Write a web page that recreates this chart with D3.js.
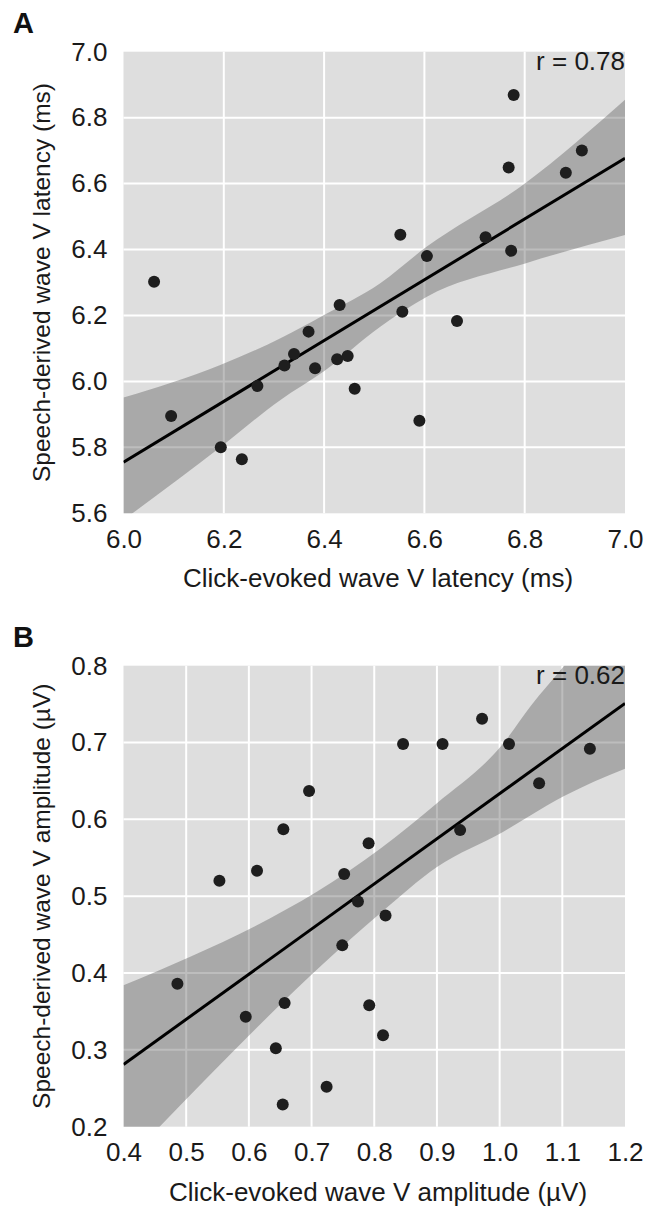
<!DOCTYPE html>
<html lang="en">
<head>
<meta charset="utf-8">
<script src="https://d3js.org/d3.v7.min.js"></script>
<title>wave V</title>
<style>
    body {margin: 0; background: #fff;}
    svg {font-family: "Liberation Sans", Arial, sans-serif;}
    .tick text {font-size: 26px; fill: #1a1a1a;}
    .title {font-size: 26px; fill: #1a1a1a;}
    .ytitle {font-size: 24.5px; fill: #1a1a1a;}
    .panel {font-size: 29px; font-weight: bold; fill: #111;}
</style>
</head>
<body>
<svg width="658" height="1207"></svg>
<script>
    // A: latency (ms), click-evoked vs speech-derived
    var latClick  = [6.061, 6.095, 6.194, 6.236, 6.267, 6.321, 6.340, 6.369, 6.382, 6.426, 6.431, 6.447,
                     6.461, 6.552, 6.556, 6.590, 6.605, 6.665, 6.722, 6.768, 6.773, 6.778, 6.882, 6.914];
    var latSpeech = [6.302, 5.895, 5.800, 5.764, 5.986, 6.048, 6.083, 6.151, 6.040, 6.067, 6.232, 6.077,
                     5.978, 6.445, 6.211, 5.881, 6.380, 6.183, 6.437, 6.649, 6.396, 6.869, 6.633, 6.700];
    var latTicksX = [6.0, 6.2, 6.4, 6.6, 6.8, 7.0];
    var latTicksY = [5.6, 5.8, 6.0, 6.2, 6.4, 6.6, 6.8, 7.0];
    // fitted line (at axis ends) and shaded band
    var latFit    = [5.755, 6.677];
    var latBandX  = [6.0, 6.193, 6.313, 6.399, 6.512, 6.605, 6.801, 7.0];
    var latBandLo = [5.580, 5.800, 5.944, 6.030, 6.166, 6.257, 6.358, 6.444];
    var latBandHi = [5.951, 6.050, 6.131, 6.201, 6.298, 6.409, 6.601, 6.854];

    // B: amplitude (µV)
    var ampClick  = [0.486, 0.553, 0.595, 0.613, 0.643, 0.654, 0.655, 0.657, 0.696, 0.724, 0.749, 0.752,
                     0.774, 0.791, 0.792, 0.814, 0.818, 0.846, 0.909, 0.937, 0.972, 1.015, 1.063, 1.144];
    var ampSpeech = [0.386, 0.520, 0.343, 0.533, 0.302, 0.229, 0.587, 0.361, 0.637, 0.252, 0.436, 0.529,
                     0.493, 0.569, 0.358, 0.319, 0.475, 0.698, 0.698, 0.586, 0.731, 0.698, 0.647, 0.692];
    var ampTicksX = [0.4, 0.5, 0.6, 0.7, 0.8, 0.9, 1.0, 1.1, 1.2];
    var ampTicksY = [0.2, 0.3, 0.4, 0.5, 0.6, 0.7, 0.8];
    var ampFit    = [0.281, 0.751];
    var ampBandX  = [0.4, 0.81, 0.9, 1.006, 1.049, 1.102, 1.2];
    var ampBandLo = [0.151, 0.478, 0.538, 0.584, 0.605, 0.630, 0.666];
    var ampBandHi = [0.384, 0.562, 0.621, 0.699, 0.747, 0.799, 0.900];

    var svg = d3.select('svg');
    var left = 123.5, right = 625;

    function panel(o) {
        var x = d3.scaleLinear().domain(d3.extent(o.tx)).range([left, right]);
        var y = d3.scaleLinear().domain(d3.extent(o.ty)).range([o.bottom, o.top]);
        var g = svg.append('g');

        g.append('clipPath').attr('id', o.id)
            .append('rect').attr('x', left).attr('y', o.top)
            .attr('width', right - left).attr('height', o.bottom - o.top);

        g.append('rect').attr('x', left).attr('y', o.top)
            .attr('width', right - left).attr('height', o.bottom - o.top)
            .attr('fill', '#dedede');

        // grid
        g.selectAll('.vg').data(o.tx.slice(1, -1)).enter().append('line')
            .attr('x1', d => x(d)).attr('x2', d => x(d))
            .attr('y1', o.top).attr('y2', o.bottom)
            .attr('stroke', '#fff').attr('stroke-width', 2);
        g.selectAll('.hg').data(o.ty.slice(1, -1)).enter().append('line')
            .attr('y1', d => y(d)).attr('y2', d => y(d))
            .attr('x1', left).attr('x2', right)
            .attr('stroke', '#fff').attr('stroke-width', 2);

        var clip = g.append('g').attr('clip-path', 'url(#' + o.id + ')');
        clip.append('path').datum(o.bx)
            .attr('d', d3.area().curve(d3.curveMonotoneX)
                .x(d => x(d)).y0((d, i) => y(o.lo[i])).y1((d, i) => y(o.hi[i])))
            .attr('fill', '#5a5a5a').attr('fill-opacity', 0.4);
        clip.append('path').datum(x.domain())
            .attr('d', d3.line().x(d => x(d)).y((d, i) => y(o.fit[i])))
            .attr('fill', 'none').attr('stroke', '#000').attr('stroke-width', 3);

        g.selectAll('circle').data(o.xs).enter().append('circle')
            .attr('cx', d => x(d)).attr('cy', (d, i) => y(o.ys[i]))
            .attr('r', 6).attr('fill', '#1e1e1e');

        // axes
        g.append('g').attr('transform', 'translate(0,' + o.bottom + ')')
            .call(d3.axisBottom(x).tickValues(o.tx).tickFormat(d3.format('.1f')).tickSize(0).tickPadding(16))
            .call(a => a.select('.domain').remove());
        g.append('g').attr('transform', 'translate(' + left + ',0)')
            .call(d3.axisLeft(y).tickValues(o.ty).tickFormat(d3.format('.1f')).tickSize(0).tickPadding(16))
            .call(a => a.select('.domain').remove());
        g.selectAll('.tick text').attr('font-family', null).attr('font-size', null);

        g.append('text').attr('class', 'title').attr('text-anchor', 'middle')
            .attr('x', 378).attr('y', o.bottom + 74).text(o.xTitle);
        g.append('text').attr('class', 'ytitle').attr('text-anchor', 'middle')
            .attr('transform', 'translate(50,' + (o.top + o.bottom) / 2 + ') rotate(-90)')
            .text(o.yTitle);
        g.append('text').attr('class', 'title').attr('text-anchor', 'end')
            .attr('x', right).attr('y', o.top + 18.5).text(o.r);
        g.append('text').attr('class', 'panel').attr('x', 13).attr('y', o.top - 19).text(o.label);
    }

    panel({id: 'clipA', label: 'A', top: 51.7, bottom: 513.3, xs: latClick, ys: latSpeech,
        tx: latTicksX, ty: latTicksY, fit: latFit, bx: latBandX, lo: latBandLo, hi: latBandHi, r: 'r = 0.78',
        xTitle: 'Click-evoked wave V latency (ms)', yTitle: 'Speech-derived wave V latency (ms)'});
    panel({id: 'clipB', label: 'B', top: 665.7, bottom: 1126.7, xs: ampClick, ys: ampSpeech,
        tx: ampTicksX, ty: ampTicksY, fit: ampFit, bx: ampBandX, lo: ampBandLo, hi: ampBandHi, r: 'r = 0.62',
        xTitle: 'Click-evoked wave V amplitude (µV)', yTitle: 'Speech-derived wave V amplitude (µV)'});
</script>
</body>
</html>
